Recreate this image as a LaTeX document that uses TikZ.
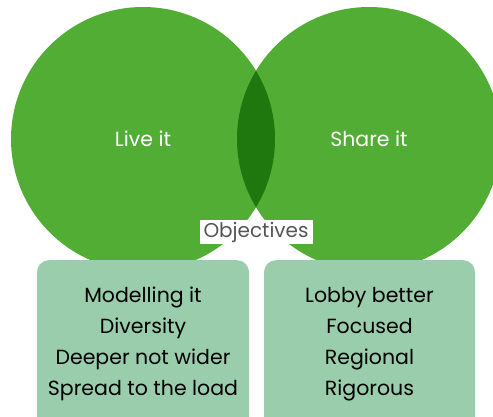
\documentclass[tikz,border=0pt]{standalone}
\usepackage{fontspec}
\setmainfont{Poppins}
\usepackage{tikz}
\usetikzlibrary{positioning}
\definecolor{venngreen}{RGB}{82,173,53}
\definecolor{lensgreen}{RGB}{30,120,14}
\definecolor{boxgreen}{RGB}{153,205,172}
\definecolor{labelgray}{RGB}{85,85,85}

\begin{document}
\begin{tikzpicture}[
	  x=1pt, y=-1pt,
	  circle_style/.style={
	  	circle,
	  	fill=venngreen,
	  	minimum size=264pt,
	  	inner sep=0pt,
	  	text=white,
	  	font=\fontsize{20.5}{24}\selectfont
	  },
	  box_style/.style={
		  rectangle,
		  rounded corners=12pt,
		  fill=boxgreen,
		  align=center,
		  minimum height=168pt,
		  text=black,
		  font=\fontsize{20.5}{31}\selectfont
	  },
	  label_style/.style={
		  rectangle,
		  fill=white,
		  inner xsep=4pt,
		  inner ysep=2pt,
		  text=labelgray,
		  font=\fontsize{20}{24}\selectfont
	  }]
	\useasboundingbox (0,0) rectangle (493,416);
	\clip (0,0) rectangle (493,416);
	% Circles
	\node[circle_style] (live) at (143,139) {Live it};
	\node[circle_style] (share) at (369,139) {Share it};
	% Overlap
	\begin{scope}
		\clip (143,139) circle (132);
		\fill[lensgreen] (369,139) circle (132);
	\end{scope}
	\node[label_style] (objectives) at (256,232) {Objectives};
	% Boxes
	\node[box_style, minimum width=212pt, anchor=north] (livebox) at (143,260)
		{Modelling it\\Diversity\\Deeper not wider\\Spread to the load};
	\node[box_style, minimum width=211pt, anchor=north] (sharebox) at (369.5,260)
		{Lobby better\\Focused\\Regional\\Rigorous};
\end{tikzpicture}
\end{document}
